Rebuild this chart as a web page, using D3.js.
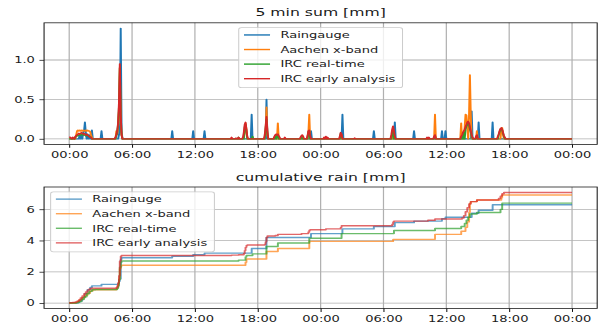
<!DOCTYPE html>
<html>
<head>
<meta charset="utf-8">
<script src="https://cdn.jsdelivr.net/npm/d3@7"></script>
<style>
  html, body { margin: 0; padding: 0; background: #fff; }
  svg { display: block; }
  text { font-family: "DejaVu Sans", sans-serif; fill: #1a1a1a; }
</style>
</head>
<body>
<svg id="chart" width="600" height="327"></svg>
<script>
// series names + colours (matplotlib default cycle)
const seriesNames = ["Raingauge", "Aachen x-band", "IRC real-time", "IRC early analysis"];
const colors = ["#1f77b4", "#ff7f0e", "#2ca02c", "#d62728"];

// x axis: hours since start, two days
const xTicks = [0, 6, 12, 18, 24, 30, 36, 42, 48];
const xTickLabels = ["00:00", "06:00", "12:00", "18:00", "00:00", "06:00", "12:00", "18:00", "00:00"];
const sumTicks = [0, 0.5, 1.0];
const sumTickLabels = ["0.0", "0.5", "1.0"];
const cumTicks = [0, 2, 4, 6];
const cumTickLabels = ["0", "2", "4", "6"];

// 5 min sums as [hour, mm]; any 5 min step not listed was dry (0 mm)
const gauge5 = [[1.0,0.05],[1.17,0.05],[1.33,0.08],[1.42,0.1],[1.5,0.21],[1.58,0.08],[1.75,0.06],[1.92,0.05],
  [2.17,0.11],[3.08,0.1],[4.75,0.05],[4.83,0.15],[4.92,1.4],[5.0,0.1],[9.83,0.1],[11.83,0.1],[12.92,0.1],
  [17.42,0.31],[18.83,0.5],[23.08,0.1],[26.08,0.31],[29.08,0.1],[31.08,0.21],[32.92,0.1],[35.58,0.1],
  [35.92,0.1],[38.42,0.35],[39.08,0.21],[40.42,0.21]];
const aachen5 = [[0.67,0.05],[0.75,0.1],[0.83,0.11],[0.92,0.1],[1.0,0.11],[1.08,0.1],[1.17,0.11],[1.25,0.1],
  [1.33,0.11],[1.42,0.1],[1.5,0.1],[1.58,0.11],[1.67,0.1],[1.75,0.11],[1.83,0.1],[1.92,0.1],[2.0,0.09],
  [2.08,0.05],[2.17,0.02],[4.5,0.1],[4.58,0.06],[4.67,0.15],[4.75,0.35],[4.83,0.9],[4.92,0.2],[5.0,0.05],
  [16.75,0.08],[16.83,0.2],[16.92,0.12],[18.75,0.1],[18.83,0.4],[18.92,0.05],[19.92,0.2],[22.25,0.04],
  [22.83,0.08],[22.92,0.31],[26.0,0.04],[30.92,0.12],[34.92,0.31],[37.42,0.2],[37.75,0.15],[37.83,0.31],
  [37.92,0.3],[38.0,0.15],[38.17,0.3],[38.25,0.81],[38.33,0.3],[38.92,0.1],[41.25,0.12],[41.33,0.14],[41.42,0.05]];
const ircRT5 = [[0.58,0.02],[0.67,0.03],[0.75,0.04],[0.83,0.04],[0.92,0.05],[1.0,0.05],[1.08,0.05],[1.17,0.06],
  [1.25,0.05],[1.33,0.05],[1.42,0.05],[1.5,0.05],[1.58,0.04],[1.67,0.05],[1.75,0.04],[1.83,0.04],[1.92,0.03],
  [2.0,0.02],[2.08,0.02],[4.5,0.04],[4.58,0.08],[4.67,0.18],[4.75,0.4],[4.83,0.9],[4.92,0.3],[5.0,0.05],
  [16.17,0.02],[16.75,0.15],[16.83,0.18],[16.92,0.1],[17.5,0.03],[18.75,0.12],[18.83,0.25],[18.92,0.08],
  [19.67,0.04],[19.83,0.05],[19.92,0.05],[22.17,0.03],[22.83,0.09],[22.92,0.1],[25.92,0.07],[26.0,0.05],
  [30.83,0.1],[30.92,0.12],[34.92,0.04],[37.5,0.04],[37.67,0.08],[37.83,0.12],[37.92,0.16],[38.0,0.18],
  [38.08,0.2],[38.17,0.18],[38.25,0.12],[38.33,0.08],[38.42,0.04],[38.92,0.04],[41.0,0.05],[41.08,0.09],
  [41.17,0.12],[41.25,0.13],[41.33,0.11],[41.42,0.07],[41.5,0.03]];
const ircEA5 = [[0.0,0.02],[0.08,0.02],[0.17,0.01],[0.33,0.02],[0.42,0.01],[0.58,0.03],[0.67,0.04],[0.75,0.05],
  [0.83,0.06],[0.92,0.07],[1.0,0.06],[1.08,0.07],[1.17,0.08],[1.25,0.07],[1.33,0.06],[1.42,0.07],[1.5,0.06],
  [1.58,0.05],[1.67,0.06],[1.75,0.05],[1.83,0.04],[1.92,0.03],[2.0,0.02],[2.08,0.02],
  [4.42,0.02],[4.5,0.05],[4.58,0.1],[4.67,0.2],[4.75,0.45],[4.83,0.95],[4.92,0.3],[5.0,0.05],
  [15.5,0.02],[15.92,0.01],[16.17,0.02],[16.58,0.02],[16.67,0.08],[16.75,0.18],[16.83,0.21],[16.92,0.12],[17.0,0.03],
  [18.67,0.05],[18.75,0.15],[18.83,0.28],[18.92,0.1],[19.58,0.03],[19.67,0.05],[19.75,0.06],[19.83,0.05],
  [19.92,0.06],[20.0,0.04],[20.08,0.02],[20.58,0.02],[22.08,0.02],[22.17,0.04],[22.25,0.05],[22.33,0.03],
  [22.75,0.04],[22.83,0.1],[22.92,0.11],[23.0,0.04],[24.33,0.02],[24.5,0.03],[24.67,0.02],[25.83,0.03],
  [25.92,0.08],[26.0,0.06],[27.25,0.01],[30.75,0.05],[30.83,0.12],[30.92,0.16],[31.0,0.1],[31.08,0.03],
  [34.17,0.02],[34.33,0.02],[34.83,0.03],[34.92,0.05],[37.42,0.03],[37.5,0.05],[37.58,0.08],[37.67,0.1],
  [37.75,0.12],[37.83,0.15],[37.92,0.18],[38.0,0.21],[38.08,0.22],[38.17,0.2],[38.25,0.15],[38.33,0.1],
  [38.42,0.05],[38.5,0.02],[38.83,0.03],[38.92,0.05],[40.92,0.03],[41.0,0.06],[41.08,0.1],[41.17,0.13],
  [41.25,0.14],[41.33,0.12],[41.42,0.08],[41.5,0.04],[41.58,0.02]];

// cumulative rain as [hour, mm] steps (value holds from that hour on)
const gaugeCum = [[0,0],[0.83,0.05],[1.0,0.15],[1.25,0.35],[1.5,0.6],[1.75,0.85],[2.0,1.0],[2.17,1.1],
  [3.08,1.2],[4.67,1.25],[4.75,1.4],[4.83,1.55],[4.92,2.8],[5.0,2.9],[9.83,3.0],[11.83,3.1],[12.92,3.2],
  [17.42,3.5],[18.83,4.2],[23.08,4.45],[26.08,4.75],[29.08,4.9],[31.08,5.15],[32.92,5.25],[35.58,5.4],
  [35.92,5.5],[38.42,5.75],[39.08,5.95],[40.42,6.3],[48,6.3]];
const aachenCum = [[0,0],[0.67,0.05],[0.83,0.12],[1.0,0.22],[1.25,0.35],[1.5,0.5],[1.75,0.65],[2.0,0.78],
  [2.25,0.85],[4.5,0.9],[4.58,1.0],[4.67,1.2],[4.75,1.55],[4.83,2.2],[4.92,2.38],[5.0,2.42],[16.83,2.62],
  [16.92,2.82],[18.83,3.3],[19.92,3.5],[22.92,3.95],[30.92,4.08],[34.92,4.4],[37.42,4.6],[37.83,4.85],
  [38.0,5.2],[38.17,5.8],[38.25,6.4],[38.33,6.5],[38.92,6.6],[41.25,6.75],[41.33,6.92],[48,6.92]];
const ircRTCum = [[0,0],[0.67,0.03],[0.92,0.1],[1.17,0.25],[1.42,0.4],[1.67,0.6],[1.92,0.75],[2.17,0.85],
  [2.5,0.87],[4.58,0.95],[4.67,1.1],[4.75,1.5],[4.83,2.3],[4.92,2.62],[5.0,2.7],[16.17,2.75],[16.83,2.95],
  [16.92,3.05],[17.5,3.15],[18.83,3.62],[19.92,3.85],[22.92,4.15],[26.0,4.45],[31.0,4.65],[34.92,4.78],
  [37.42,4.9],[37.75,5.1],[37.92,5.3],[38.08,5.5],[38.25,5.7],[38.92,5.8],[41.17,6.0],[41.33,6.4],[48,6.4]];
const ircEACum = [[0,0],[0.08,0.02],[0.33,0.04],[0.58,0.07],[0.75,0.12],[0.92,0.2],[1.08,0.33],[1.25,0.45],
  [1.42,0.6],[1.58,0.72],[1.75,0.83],[1.92,0.9],[2.08,0.95],[4.5,1.0],[4.58,1.1],[4.67,1.3],[4.75,1.75],
  [4.83,2.7],[4.92,3.0],[5.0,3.05],[15.5,3.07],[16.17,3.1],[16.67,3.18],[16.75,3.36],[16.83,3.57],[16.92,3.69],
  [17.0,3.72],[18.67,3.77],[18.75,3.92],[18.83,4.2],[18.92,4.3],[19.67,4.33],[19.92,4.4],[22.17,4.45],
  [22.83,4.55],[22.92,4.66],[23.0,4.7],[24.5,4.75],[25.92,4.85],[26.0,4.95],[30.83,5.05],[30.92,5.2],
  [31.0,5.25],[34.25,5.3],[34.92,5.38],[37.5,5.45],[37.67,5.6],[37.83,5.85],[38.0,6.1],[38.17,6.35],
  [38.33,6.5],[38.92,6.6],[41.0,6.7],[41.17,6.85],[41.33,7.0],[41.5,7.08],[48,7.08]];

// turn sparse 5 min events into the full 5 min series (577 steps over 48 h)
function fiveMin(events) {
  const byStep = new Map(events.map(([h, v]) => [Math.round(h * 12), v]));
  return d3.range(0, 577).map(i => [i / 12, byStep.get(i) || 0]);
}

// draw in the original figure units (640x480), squeezed into the 600x327 window
const svg = d3.select("#chart")
  .attr("viewBox", "0 0 640 480")
  .attr("preserveAspectRatio", "none");

const fs = 13.9;   // 10pt at 100 dpi
const left = 47, right = 637;
const x = d3.scaleLinear().domain([-2.4, 50.4]).range([left, right]);

const panels = [
  { title: "5 min sum [mm]", top: 33.5, bottom: 212, domain: [-0.07, 1.47],
    ticks: sumTicks, labels: sumTickLabels,
    data: [gauge5, aachen5, ircRT5, ircEA5].map(fiveMin),
    curve: d3.curveLinear, opacity: 1, legend: "center" },
  { title: "cumulative rain [mm]", top: 274.5, bottom: 453, domain: [-0.354, 7.434],
    ticks: cumTicks, labels: cumTickLabels,
    data: [gaugeCum, aachenCum, ircRTCum, ircEACum],
    curve: d3.curveStepAfter, opacity: 0.7, legend: "left" }
];

panels.forEach(p => {
  const y = d3.scaleLinear().domain(p.domain).range([p.bottom, p.top]);
  const g = svg.append("g");

  // grid
  g.append("g").selectAll("line").data(xTicks).join("line")
    .attr("x1", d => x(d)).attr("x2", d => x(d))
    .attr("y1", p.top).attr("y2", p.bottom)
    .attr("stroke", "#b0b0b0").attr("stroke-width", 1.3);
  g.append("g").selectAll("line").data(p.ticks).join("line")
    .attr("x1", left).attr("x2", right)
    .attr("y1", d => y(d)).attr("y2", d => y(d))
    .attr("stroke", "#b0b0b0").attr("stroke-width", 1.3);

  // series
  const line = d3.line().x(d => x(d[0])).y(d => y(d[1])).curve(p.curve);
  p.data.forEach((s, i) => {
    g.append("path").datum(s)
      .attr("d", line)
      .attr("fill", "none")
      .attr("stroke", colors[i])
      .attr("stroke-opacity", p.opacity)
      .attr("stroke-width", 2.08)
      .attr("stroke-linejoin", "round");
  });

  // frame
  g.append("rect")
    .attr("x", left).attr("y", p.top)
    .attr("width", right - left).attr("height", p.bottom - p.top)
    .attr("fill", "none").attr("stroke", "#111").attr("stroke-width", 1.1);

  // axes
  const xa = g.append("g")
    .attr("transform", "translate(0," + p.bottom + ")")
    .call(d3.axisBottom(x).tickValues(xTicks).tickFormat((d, i) => xTickLabels[i])
      .tickSize(4.9).tickPadding(5.5));
  const ya = g.append("g")
    .attr("transform", "translate(" + left + ",0)")
    .call(d3.axisLeft(y).tickValues(p.ticks).tickFormat((d, i) => p.labels[i])
      .tickSize(4.9).tickPadding(4.9));
  [xa, ya].forEach(a => {
    a.select(".domain").remove();
    a.attr("font-family", null).attr("font-size", null);
    a.selectAll("line").attr("stroke", "#111").attr("stroke-width", 1.1);
    a.selectAll("text").attr("font-size", fs).attr("fill", "#1a1a1a");
  });

  // title
  g.append("text")
    .attr("x", (left + right) / 2).attr("y", p.top - 9.5)
    .attr("text-anchor", "middle")
    .attr("font-size", 16.7)
    .text(p.title);

  // legend
  const lg = g.append("g");
  const box = lg.append("rect");
  const rowH = 21.4, pad = 5.6, handle = 27.8, gap = 11.1;
  const labels = lg.selectAll("g.item").data(seriesNames).join("g").attr("class", "item");
  labels.append("line")
    .attr("x1", pad).attr("x2", pad + handle)
    .attr("y1", (d, i) => 10.6 + i * rowH).attr("y2", (d, i) => 10.6 + i * rowH)
    .attr("stroke", (d, i) => colors[i])
    .attr("stroke-opacity", p.opacity)
    .attr("stroke-width", 2.08);
  labels.append("text")
    .attr("x", pad + handle + gap)
    .attr("y", (d, i) => 10.6 + i * rowH)
    .attr("dy", "0.35em")
    .attr("font-size", fs)
    .text(d => d);
  let maxW = 0;
  labels.selectAll("text").each(function () { maxW = Math.max(maxW, this.getComputedTextLength()); });
  const bw = pad + handle + gap + maxW + pad + 2, bh = 88;
  box.attr("width", bw).attr("height", bh).attr("rx", 3)
    .attr("fill", "#fff").attr("fill-opacity", 0.8)
    .attr("stroke", "#cccccc").attr("stroke-width", 1.1);
  const lx = p.legend === "center" ? (left + right) / 2 - bw / 2 : left + 7;
  lg.attr("transform", "translate(" + lx + "," + (p.top + 7.2) + ")");
});
</script>
</body>
</html>
